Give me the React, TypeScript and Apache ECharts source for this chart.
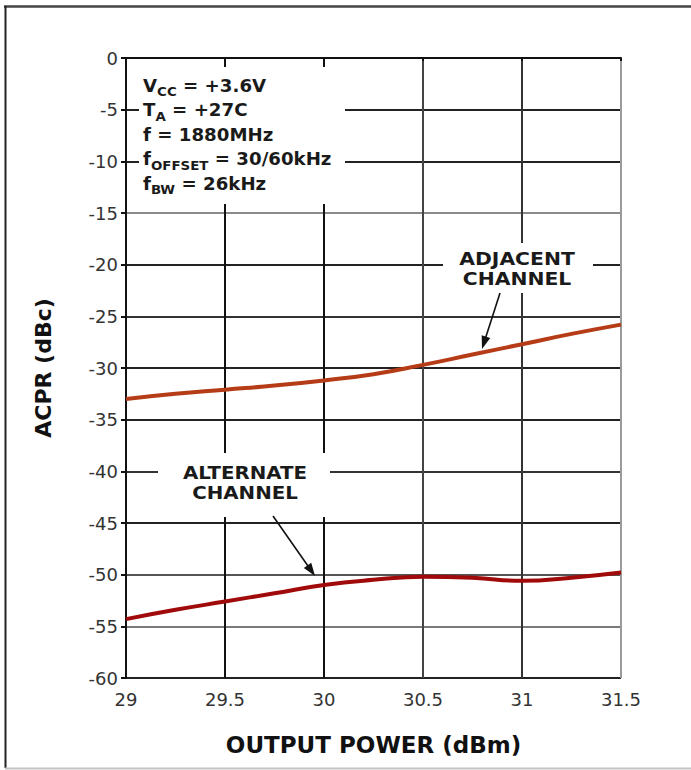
import React, { useEffect, useRef } from "react";
import * as echarts from "echarts";

// ---- data ----
const xValues = [29, 29.25, 29.5, 29.75, 30, 30.25, 30.5, 30.75, 31, 31.25, 31.5];
const adjacentChannel = [-33.0, -32.5, -32.1, -31.7, -31.2, -30.6, -29.7, -28.7, -27.7, -26.7, -25.8];
const alternateChannel = [-54.3, -53.4, -52.6, -51.8, -51.0, -50.5, -50.2, -50.3, -50.6, -50.3, -49.8];
const xMin = 29;
const xMax = 31.5;
const xStep = 0.5;
const yMin = -60;
const yMax = 0;
const yStep = 5;
const xTitle = "OUTPUT POWER (dBm)";
const yTitle = "ACPR (dBc)";
const conditionLines = [
  ["V", "CC", " = +3.6V"],
  ["T", "A", " = +27C"],
  ["f = 1880MHz", "", ""],
  ["f", "OFFSET", " = 30/60kHz"],
  ["f", "BW", " = 26kHz"],
];
const adjacentLabel = "ADJACENT\nCHANNEL";
const alternateLabel = "ALTERNATE\nCHANNEL";

const FONT = "DejaVu Sans";

function pair(x: number[], y: number[]) {
  return x.map((v, i) => [v, y[i]]);
}

function arrow(x1: number, y1: number, x2: number, y2: number) {
  const dx = x2 - x1;
  const dy = y2 - y1;
  const len = Math.sqrt(dx * dx + dy * dy);
  const ux = dx / len;
  const uy = dy / len;
  const head = 13;
  const half = 4.5;
  const bx = x2 - ux * head;
  const by = y2 - uy * head;
  const px = -uy * half;
  const py = ux * half;
  return [
    {
      type: "line",
      z: 110,
      shape: { x1, y1, x2: bx + ux * 2, y2: by + uy * 2 },
      style: { stroke: "#111", lineWidth: 1.6 },
    },
    {
      type: "polygon",
      z: 110,
      shape: {
        points: [
          [x2, y2],
          [bx + px, by + py],
          [bx - px, by - py],
        ],
      },
      style: { fill: "#111" },
    },
  ];
}

export default function App() {
  const ref = useRef<HTMLDivElement>(null);

  useEffect(() => {
    if (!ref.current) return;
    const chart = echarts.init(ref.current, undefined, { renderer: "svg" });

    const condText = conditionLines
      .map(([a, s, b]) => {
        let t = `{m|${a}}`;
        if (s) t += `{s|${s}}`;
        if (b) t += `{m|${b}}`;
        return t;
      })
      .join("\n");

    const yGridColors = ["#222", "#7a7a7a", "#555", "#222", "#333", "#222", "#222", "#333", "#222", "#8a8a8a", "#222", "#222", "#8f8f8f"];
    const xGridColors = ["#111", "#111", "#111", "#444", "#333", "#9a9a9a"];

    const labelStyle = {
      align: "center",
      verticalAlign: "middle",
      fontFamily: FONT,
      fontWeight: "bold",
      fontSize: 18,
      lineHeight: 20,
      fill: "#1a1a1a",
    };

    chart.setOption({
      animation: false,
      backgroundColor: "#fff",
      grid: { left: 126, right: 70, top: 58, bottom: 92, containLabel: false },
      xAxis: {
        type: "value",
        min: xMin,
        max: xMax,
        interval: xStep,
        name: xTitle,
        nameLocation: "middle",
        nameGap: 55,
        nameTextStyle: { fontFamily: FONT, fontWeight: "bold", fontSize: 23, color: "#111" },
        axisLine: { show: true, lineStyle: { color: "#111", width: 2 } },
        axisTick: { show: true, length: 3, lineStyle: { color: "#111", width: 2 } },
        axisLabel: { color: "#333", fontFamily: FONT, fontSize: 18, margin: 12 },
        splitLine: { show: true, lineStyle: { color: xGridColors, width: 2 } },
      },
      yAxis: {
        type: "value",
        min: yMin,
        max: yMax,
        interval: yStep,
        name: yTitle,
        nameLocation: "middle",
        nameGap: 72,
        nameTextStyle: { fontFamily: FONT, fontWeight: "bold", fontSize: 22, color: "#111" },
        axisLine: { show: true, lineStyle: { color: "#111", width: 2 } },
        axisTick: { show: true, length: 5, lineStyle: { color: "#111", width: 2 } },
        axisLabel: { color: "#333", fontFamily: FONT, fontSize: 18, margin: 8 },
        splitLine: { show: true, lineStyle: { color: yGridColors, width: 2 } },
      },
      series: [
        {
          name: "Adjacent Channel",
          type: "line",
          data: pair(xValues, adjacentChannel),
          smooth: true,
          showSymbol: false,
          lineStyle: { color: "#b53c16", width: 4 },
          z: 5,
        },
        {
          name: "Alternate Channel",
          type: "line",
          data: pair(xValues, alternateChannel),
          smooth: true,
          showSymbol: false,
          lineStyle: { color: "#a00a0a", width: 4 },
          z: 5,
        },
      ],
      graphic: [
        // outer frame
        { type: "line", z: 120, shape: { x1: 4, y1: 6.5, x2: 691, y2: 6.5 }, style: { stroke: "#444", lineWidth: 2.5 } },
        { type: "line", z: 120, shape: { x1: 5.5, y1: 6, x2: 5.5, y2: 768 }, style: { stroke: "#222", lineWidth: 2 } },
        { type: "line", z: 120, shape: { x1: 5, y1: 768.5, x2: 691, y2: 768.5 }, style: { stroke: "#c4c4c4", lineWidth: 2 } },
        // conditions box
        { type: "rect", z: 100, shape: { x: 139, y: 67, width: 206, height: 137 }, style: { fill: "#fff" } },
        {
          type: "text",
          z: 105,
          x: 143,
          y: 73.75,
          scaleX: 1.07,
          style: {
            text: condText,
            verticalAlign: "top",
            align: "left",
            fill: "#1a1a1a",
            rich: {
              m: { fontFamily: FONT, fontWeight: "bold", fontSize: 17, lineHeight: 24.5, fill: "#1a1a1a" },
              s: { fontFamily: FONT, fontWeight: "bold", fontSize: 12.5, lineHeight: 11, verticalAlign: "bottom", fill: "#1a1a1a" },
            },
          },
        },
        // adjacent label
        { type: "rect", z: 100, shape: { x: 443, y: 243, width: 150, height: 50 }, style: { fill: "#fff" } },
        {
          type: "text",
          z: 105,
          x: 517,
          y: 268.5,
          scaleX: 1.13,
          style: { ...labelStyle, text: adjacentLabel },
        },
        ...arrow(500, 293, 482, 349),
        // alternate label
        { type: "rect", z: 100, shape: { x: 158, y: 453, width: 172, height: 64 }, style: { fill: "#fff" } },
        {
          type: "text",
          z: 105,
          x: 245,
          y: 482,
          scaleX: 1.1,
          style: { ...labelStyle, text: alternateLabel },
        },
        ...arrow(273, 516, 315, 576),
      ],
    });

    return () => chart.dispose();
  }, []);

  return (
    <div
      ref={ref}
      style={{ position: "absolute", left: 0, top: 0, width: 691, height: 770, background: "#fff" }}
    />
  );
}
